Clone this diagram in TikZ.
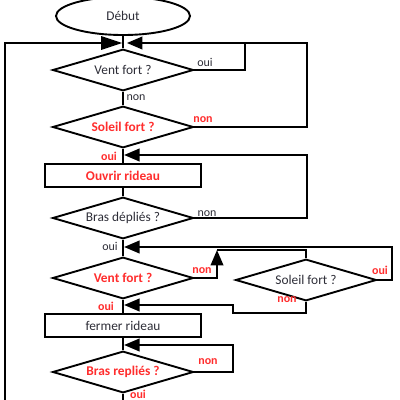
\documentclass[tikz,border=0pt]{standalone}
\usepackage{fontspec}
\setmainfont{Carlito}
\usepackage{tikz}
\usetikzlibrary{arrows.meta, positioning, shapes.geometric}
\definecolor{alertred}{RGB}{255,45,45}
\definecolor{textgray}{RGB}{45,45,55}

\begin{document}
\begin{tikzpicture}[x=0.025cm, y=-0.025cm, line width=1.35pt,
  every node/.style={text=textgray, font=\fontsize{9.5}{11}\selectfont},
  decision/.style={draw=black, diamond, aspect=3.4, inner sep=0pt, minimum width=3.52cm, minimum height=1.04cm},
  process/.style={draw=black, rectangle, inner sep=0pt, minimum width=3.9cm, minimum height=0.58cm},
  hot/.style={text=alertred, font=\fontsize{9.5}{11}\selectfont\bfseries},
  tag/.style={inner sep=0pt, font=\fontsize{8.5}{10}\selectfont},
  redtag/.style={inner sep=0pt, text=alertred, font=\fontsize{8.5}{10}\selectfont\bfseries},
  flow/.style={-{Triangle[length=11pt, width=9pt]}, shorten >=0.8pt}]
  \useasboundingbox (0,0) rectangle (400,400);

  % Start
  \node[draw=black, ellipse, inner sep=0pt, minimum width=3.35cm, minimum height=0.95cm] (debut) at (123,16) {Début};

  % Main column
  \node[decision] (vent1) at (123,70) {Vent fort ?};
  \node[decision, hot] (soleil1) at (123,127) {Soleil fort ?};
  \node[process, hot] (ouvrir) at (123,175.5) {Ouvrir rideau};
  \node[decision] (bras1) at (123,218) {Bras dépliés ?};
  \node[decision, hot] (vent2) at (123,278) {Vent fort ?};
  \node[decision] (soleil2) at (306,280) {Soleil fort ?};
  \node[process] (fermer) at (123,325.5) {fermer rideau};
  \node[decision, hot] (bras2) at (123,372) {Bras repliés ?};

  % Join points
  \coordinate (m1) at (123,43);
  \coordinate (m2) at (123,155);
  \coordinate (m3) at (123,247);
  \coordinate (m4) at (123,305);
  \coordinate (m5) at (123,345);

  % Main line
  \draw (debut) -- (vent1) -- (soleil1) -- (ouvrir) -- (bras1) -- (vent2) -- (fermer) -- (bras2);
  \draw[-{Triangle[length=15pt, width=9.5pt]}, shorten >=0.5pt] (bras2.south) -- ++(0,12) -| (5,43) -- (m1);

  % Loops back to the top
  \draw (vent1.east) -| (245,43);
  \draw[flow, shorten >=2.8pt] (soleil1.east) -| (307,43) -- (m1);

  % Opening loop
  \draw[flow] (bras1.east) -| (307,155) -- (m2);

  % Wind / sun check
  \draw[flow] (soleil2.east) -| (392,247) -- (m3);
  \draw (soleil2.north) |- (217,250);
  \draw[flow, shorten >=0pt] (vent2.east) -| (217,250);
  \draw[flow] (soleil2.south) -- ++(0,11) -| (233,305) -- (m4);

  % Closing loop
  \draw[flow] (bras2.east) -| (233,345) -- (m5);

  % Labels
  \node[tag] (ouiA) at (205,62) {oui};
  \node[tag] (nonA) at (136,98) {non};
  \node[redtag] (nonB) at (203,120) {non};
  \node[redtag] (ouiB) at (109,156) {oui};
  \node[tag] (nonC) at (207,214) {non};
  \node[tag] (ouiC) at (110,246) {oui};
  \node[redtag] (nonD) at (202,271) {non};
  \node[redtag] (ouiD) at (380,270) {oui};
  \node[redtag] (nonE) at (287,300) {non};
  \node[redtag] (ouiE) at (106,306) {oui};
  \node[redtag] (nonF) at (208,362) {non};
  \node[redtag] (ouiF) at (138,394) {oui};
\end{tikzpicture}
\end{document}
